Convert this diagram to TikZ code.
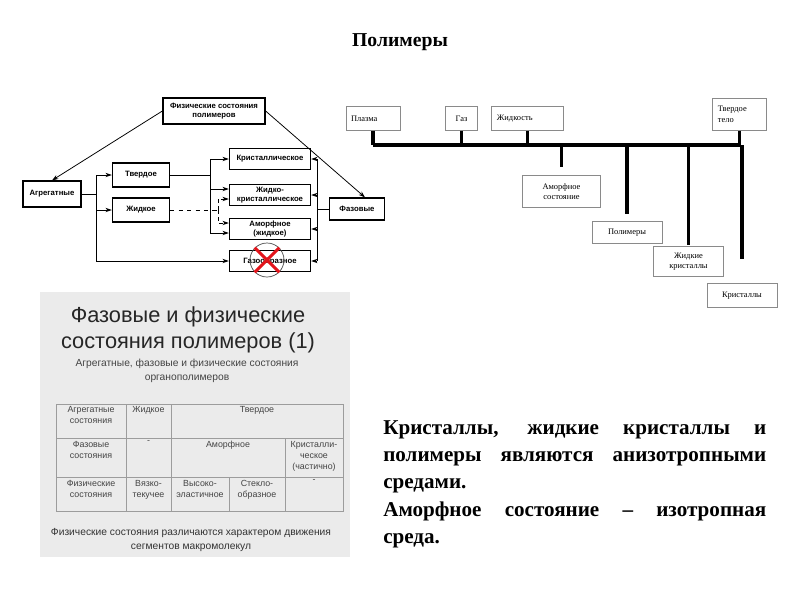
\documentclass[tikz,border=0pt]{standalone}
\usepackage{fontspec}
\setmainfont{Liberation Serif}
\setsansfont{Liberation Sans}
\usepackage{tikz}
\usetikzlibrary{arrows.meta, positioning, calc}
\definecolor{PanelGray}{HTML}{EBEBEB}
\definecolor{GridGray}{HTML}{9C9C9C}
\definecolor{CellText}{HTML}{444444}
\definecolor{BoxGray}{HTML}{8A8A8A}
\definecolor{CrossRed}{HTML}{E3141B}

\begin{document}
\begin{tikzpicture}[
    x=0.25mm, y=-0.25mm,
    lbox/.style={rectangle, draw, line width=0.9pt, align=center, inner sep=1pt, font=\sffamily\bfseries\fontsize{5.5}{6.2}\selectfont},
    larrow/.style={-{Stealth[length=1.6mm, width=1.1mm]}, line width=0.55pt},
    rbox/.style={rectangle, draw=BoxGray, line width=0.6pt, inner xsep=1.25mm, inner ysep=1pt, font=\fontsize{6}{7.5}\selectfont},
    stem/.style={line width=2.6pt},
    cell/.style={anchor=north, align=center, inner sep=0pt, text=CellText, font=\sffamily\fontsize{6.3}{8}\selectfont},
    grid/.style={draw=GridGray, line width=0.6pt},
]
\useasboundingbox (0,0) rectangle (800,600);

% Title
\node[font=\bfseries\fontsize{14}{16}\selectfont] (title) at (400,42) {Полимеры};

% Left scheme
\node[lbox, minimum width=2.55cm, minimum height=0.65cm] (phys) at (214,111) {Физические состояния\\полимеров};
\node[lbox, minimum width=1.45cm, minimum height=0.65cm] (agr) at (52,194) {Агрегатные};
\node[lbox, minimum width=1.43cm, minimum height=0.6cm] (solid) at (141,175) {Твердое};
\node[lbox, minimum width=1.43cm, minimum height=0.6cm] (liquid) at (141,210) {Жидкое};
\node[lbox, minimum width=2.03cm, minimum height=0.53cm] (cryst) at (270,159) {Кристаллическое};
\node[lbox, minimum width=2.03cm, minimum height=0.53cm] (lcryst) at (270,195) {Жидко-\\кристаллическое};
\node[lbox, minimum width=2.03cm, minimum height=0.53cm] (amorph) at (270,229) {Аморфное\\(жидкое)};
\node[lbox, minimum width=2.03cm, minimum height=0.53cm] (gas) at (270,261) {Газообразное};
\node[lbox, minimum width=1.38cm, minimum height=0.55cm] (phase) at (357,209) {Фазовые};

\coordinate (aj) at (96,194);
\coordinate (sj) at (210,175);
\coordinate (lj) at (218,210);
\coordinate (pj) at (317,209);

\draw[larrow] (phys.west) -- (agr.north);
\draw[larrow] (phys.east) -- ([xshift=2mm]phase.north);

\draw[line width=0.55pt] (agr) -- (aj);
\draw[line width=0.55pt] (aj |- solid) -- (aj |- gas);
\draw[larrow] (aj |- solid) -- (solid);
\draw[larrow] (aj |- liquid) -- (liquid);
\draw[larrow] (aj |- gas) -- (gas);

\draw[line width=0.55pt] (solid) -- (sj);
\draw[line width=0.55pt] (sj |- cryst) -- ([yshift=-1mm]sj |- amorph);
\draw[larrow] (sj |- cryst) -- (cryst);
\draw[larrow] ([yshift=1.5mm]sj |- lcryst) -- ([yshift=1.5mm]lcryst.west);
\draw[larrow] ([yshift=-1mm]sj |- amorph) -- ([yshift=-1mm]amorph.west);

\draw[line width=0.55pt, dashed] (liquid) -- (lj);
\draw[larrow, densely dashed] (lj) |- ([yshift=-1mm]lcryst.west);
\draw[larrow, densely dashed] (lj) |- ([yshift=1.5mm]amorph.west);

\draw[line width=0.55pt] (phase) -- (pj);
\draw[line width=0.55pt] (pj |- cryst) -- (pj |- gas);
\draw[larrow] (pj |- cryst) -- (cryst);
\draw[larrow] (pj |- lcryst) -- (lcryst);
\draw[larrow] (pj |- amorph) -- (amorph);
\draw[larrow] (pj |- gas) -- (gas);

% Crossed out
\node[circle, draw=black!70, line width=0.5pt, minimum size=0.85cm] (nogas) at (267,260) {};
\draw[CrossRed, line width=2.2pt] (nogas.north west) -- (nogas.south east);
\draw[CrossRed, line width=2.2pt] (nogas.north east) -- (nogas.south west);

% Right scheme
\node[rbox, text width=1.1cm, minimum height=0.58cm, align=left] (plasma) at (373,118.5) {Плазма};
\node[rbox, text width=0.53cm, minimum height=0.58cm, align=center] (gas2) at (461.5,118.5) {Газ};
\node[rbox, text width=1.53cm, minimum height=0.58cm, align=left] (liquid2) at (527.5,118.5) {Жидкость};
\node[rbox, text width=1.08cm, minimum height=0.78cm, align=left] (tverd) at (739.5,114.5) {Твердое\\тело};
\node[rbox, text width=1.68cm, minimum height=0.78cm, align=center] (amorph2) at (561.5,191.5) {Аморфное\\состояние};
\node[rbox, text width=1.5cm, minimum height=0.53cm, align=center] (polym) at (627,232.5) {Полимеры};
\node[rbox, text width=1.48cm, minimum height=0.73cm, align=center] (lcryst2) at (688.5,261.5) {Жидкие\\кристаллы};
\node[rbox, text width=1.5cm, minimum height=0.58cm, align=center] (cryst2) at (742,295.5) {Кристаллы};

\coordinate (bar) at (0,145);
\draw[stem] (plasma.south |- bar) -- (tverd.south |- bar);
\draw[stem] (plasma) -- (plasma |- bar);
\draw[stem] (gas2) -- (gas2 |- bar);
\draw[stem] (liquid2) -- (liquid2 |- bar);
\draw[stem] (tverd) -- (tverd |- bar);
\draw[stem, shorten >=2mm] (amorph2 |- bar) -- (amorph2);
\draw[stem, shorten >=1.75mm] (polym |- bar) -- (polym);
\draw[stem, shorten >=0.3mm] (lcryst2 |- bar) -- (lcryst2);
\draw[stem, shorten >=6mm] (cryst2 |- bar) -- (cryst2);

% Panel with table
\fill[PanelGray] (40,292) rectangle (350,557);
\node[align=center, text=black!85, font=\sffamily\fontsize{15.5}{18}\selectfont] (ptitle) at (188,330) {Фазовые и физические\\состояния полимеров (1)};
\node[align=center, text=CellText, font=\sffamily\fontsize{7.3}{10}\selectfont] (psub) at (187,371) {Агрегатные, фазовые и физические состояния\\органополимеров};

\draw[grid] (56,404) rectangle (343,511);
\draw[grid] (56,438) -- (343,438);
\draw[grid] (56,477) -- (343,477);
\draw[grid] (126,404) -- (126,511);
\draw[grid] (171,404) -- (171,511);
\draw[grid] (285,438) -- (285,511);
\draw[grid] (229,477) -- (229,511);

\node[cell] (c11) at (91,406) {Агрегатные\\состояния};
\node[cell] (c12) at (148.5,406) {Жидкое};
\node[cell] (c13) at (257,406) {Твердое};
\node[cell] (c21) at (91,441) {Фазовые\\состояния};
\node[cell] (c22) at (148.5,441) {-};
\node[cell] (c23) at (228,441) {Аморфное};
\node[cell] (c25) at (314,441) {Кристалли-\\ческое\\(частично)};
\node[cell] (c31) at (91,480) {Физические\\состояния};
\node[cell] (c32) at (148.5,480) {Вязко-\\текучее};
\node[cell] (c33) at (200,480) {Высоко-\\эластичное};
\node[cell] (c34) at (257,480) {Стекло-\\образное};
\node[cell] (c35) at (314,480) {-};

\node[align=center, text=black!80, font=\sffamily\fontsize{7.3}{10.6}\selectfont] (pnote) at (191,540) {Физические состояния различаются характером движения\\сегментов макромолекул};

% Statement
\node[anchor=north west, inner sep=0pt, text width=9.575cm, align=justify, font=\bfseries\fontsize{15}{19.5}\selectfont] (claim) at (383,420)
  {\hyphenpenalty=10000 Кристаллы, жидкие кристаллы и\linebreak полимеры являются анизотропными\linebreak средами.\par
   Аморфное состояние – изотропная\linebreak среда.};

\end{tikzpicture}
\end{document}
